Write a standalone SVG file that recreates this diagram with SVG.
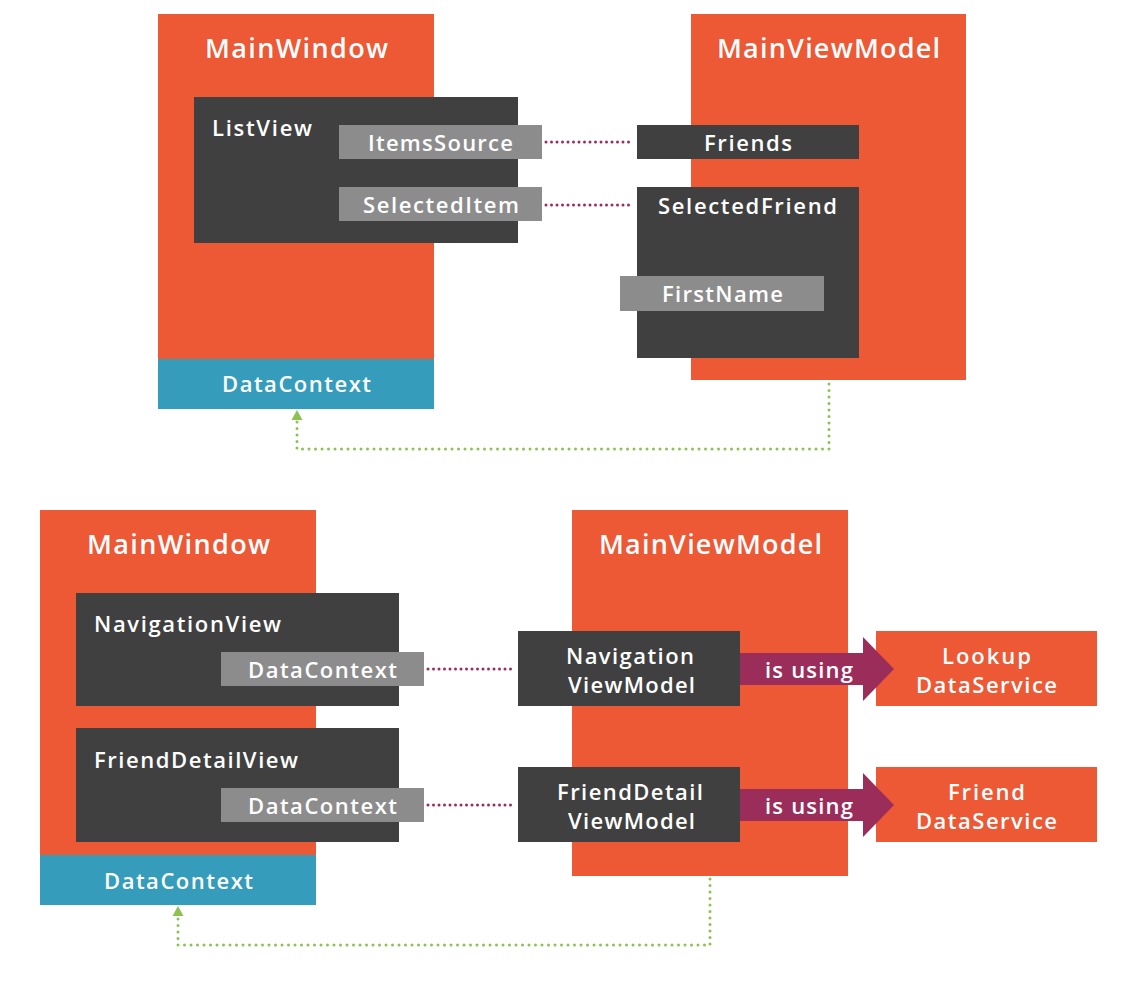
<svg xmlns="http://www.w3.org/2000/svg" width="1127" height="992" viewBox="0 0 1127 992">
  <style>
    .orange { fill: #ED5835; }
    .dark { fill: #404040; }
    .gray { fill: #8C8C8C; }
    .teal { fill: #359CBC; }
    .t { fill: #FFFFFF; font-family: "Open Sans", "Liberation Sans", sans-serif; font-weight: 600; }
    .h { font-size: 27px; }
    .l { font-size: 22px; }
    .bind { fill: none; stroke: #9B2D5B; stroke-width: 3; stroke-linecap: round; stroke-dasharray: 0 5.5; }
    .dc { fill: none; stroke: #8DC152; stroke-width: 3; stroke-linecap: round; stroke-dasharray: 0 6.5; }
    .arrowhead { fill: #8DC152; }
    .using { fill: #9B2D5B; }
  </style>
  <rect width="1127" height="992" fill="#FFFFFF"/>

  <!-- Top section -->
  <g id="top-mainwindow">
    <rect class="orange" x="158" y="14" width="276" height="345"/>
    <text class="t h" x="205" y="58" textLength="183" lengthAdjust="spacing">MainWindow</text>
  </g>
  <g id="top-datacontext">
    <rect class="teal" x="158" y="359" width="276" height="50"/>
    <text class="t l" x="222" y="392" textLength="149" lengthAdjust="spacing">DataContext</text>
  </g>
  <g id="top-listview">
    <rect class="dark" x="194" y="97" width="324" height="146"/>
    <text class="t l" x="212" y="136" textLength="100" lengthAdjust="spacing">ListView</text>
  </g>
  <g id="top-itemssource">
    <rect class="gray" x="339" y="125" width="203" height="34"/>
    <text class="t l" x="368" y="151" textLength="145" lengthAdjust="spacing">ItemsSource</text>
  </g>
  <g id="top-selecteditem">
    <rect class="gray" x="339" y="187" width="203" height="34"/>
    <text class="t l" x="363" y="213" textLength="156" lengthAdjust="spacing">SelectedItem</text>
  </g>
  <g id="top-mainviewmodel">
    <rect class="orange" x="691" y="14" width="275" height="366"/>
    <text class="t h" x="717" y="58" textLength="223" lengthAdjust="spacing">MainViewModel</text>
  </g>
  <g id="top-friends">
    <rect class="dark" x="637" y="125" width="222" height="34"/>
    <text class="t l" x="704" y="151" textLength="88" lengthAdjust="spacing">Friends</text>
  </g>
  <g id="top-selectedfriend">
    <rect class="dark" x="637" y="187" width="222" height="171"/>
    <text class="t l" x="658" y="214" textLength="179" lengthAdjust="spacing">SelectedFriend</text>
  </g>
  <g id="top-firstname">
    <rect class="gray" x="620" y="276" width="204" height="35"/>
    <text class="t l" x="662" y="302" textLength="121" lengthAdjust="spacing">FirstName</text>
  </g>

  <!-- Bottom section -->
  <g id="bot-mainwindow">
    <rect class="orange" x="40" y="510" width="276" height="345"/>
    <text class="t h" x="87" y="554" textLength="183" lengthAdjust="spacing">MainWindow</text>
  </g>
  <g id="bot-datacontext">
    <rect class="teal" x="40" y="855" width="276" height="50"/>
    <text class="t l" x="104" y="889" textLength="149" lengthAdjust="spacing">DataContext</text>
  </g>
  <g id="bot-navigationview">
    <rect class="dark" x="76" y="593" width="323" height="113"/>
    <text class="t l" x="94" y="632" textLength="187" lengthAdjust="spacing">NavigationView</text>
  </g>
  <g id="bot-nav-datacontext">
    <rect class="gray" x="221" y="652" width="203" height="34"/>
    <text class="t l" x="248" y="678" textLength="149" lengthAdjust="spacing">DataContext</text>
  </g>
  <g id="bot-frienddetailview">
    <rect class="dark" x="76" y="728" width="323" height="114"/>
    <text class="t l" x="94" y="768" textLength="204" lengthAdjust="spacing">FriendDetailView</text>
  </g>
  <g id="bot-fd-datacontext">
    <rect class="gray" x="221" y="788" width="203" height="34"/>
    <text class="t l" x="248" y="814" textLength="149" lengthAdjust="spacing">DataContext</text>
  </g>
  <g id="bot-mainviewmodel">
    <rect class="orange" x="572" y="510" width="276" height="366"/>
    <text class="t h" x="599" y="554" textLength="223" lengthAdjust="spacing">MainViewModel</text>
  </g>
  <g id="bot-navigationviewmodel">
    <rect class="dark" x="518" y="631" width="222" height="75"/>
    <text class="t l" x="566" y="664" textLength="128" lengthAdjust="spacing">Navigation</text>
    <text class="t l" x="568" y="693" textLength="127" lengthAdjust="spacing">ViewModel</text>
  </g>
  <g id="bot-frienddetailviewmodel">
    <rect class="dark" x="518" y="767" width="222" height="75"/>
    <text class="t l" x="557" y="800" textLength="146" lengthAdjust="spacing">FriendDetail</text>
    <text class="t l" x="568" y="829" textLength="127" lengthAdjust="spacing">ViewModel</text>
  </g>
  <g id="bot-lookupdataservice">
    <rect class="orange" x="876" y="631" width="221" height="75"/>
    <text class="t l" x="942" y="664" textLength="89" lengthAdjust="spacing">Lookup</text>
    <text class="t l" x="916" y="693" textLength="141" lengthAdjust="spacing">DataService</text>
  </g>
  <g id="bot-frienddataservice">
    <rect class="orange" x="876" y="767" width="221" height="75"/>
    <text class="t l" x="948" y="800" textLength="77" lengthAdjust="spacing">Friend</text>
    <text class="t l" x="916" y="829" textLength="141" lengthAdjust="spacing">DataService</text>
  </g>

  <!-- Connectors -->
  <g id="connectors">
    <line class="bind" x1="546" y1="142" x2="634" y2="142"/>
    <line class="bind" x1="546" y1="205" x2="634" y2="205"/>
    <path class="dc" d="M829,384 V449 H297 V421"/>
    <polygon class="arrowhead" points="297,410 291.5,420 302.5,420"/>

    <line class="bind" x1="428" y1="669" x2="515" y2="669"/>
    <line class="bind" x1="428" y1="805" x2="515" y2="805"/>
    <path class="dc" d="M710,879 V945 H178 V917"/>
    <polygon class="arrowhead" points="178,906 172.5,916 183.5,916"/>

    <polygon class="using" points="740,653 863,653 863,637 894,669 863,701 863,685 740,685"/>
    <text class="t l" x="765" y="678" textLength="88" lengthAdjust="spacing">is using</text>
    <polygon class="using" points="740,789 863,789 863,773 894,805 863,837 863,821 740,821"/>
    <text class="t l" x="765" y="814" textLength="88" lengthAdjust="spacing">is using</text>
  </g>
</svg>
